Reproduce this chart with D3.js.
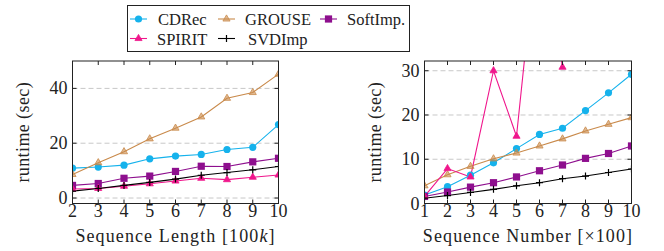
<!DOCTYPE html>
<html>
<head>
<meta charset="utf-8">
<script src="https://cdn.jsdelivr.net/npm/d3@7"></script>
<style>
  body { margin: 0; background: #fff; }
  svg { display: block; font-family: "Liberation Serif", "DejaVu Serif", serif; }
</style>
</head>
<body>
<svg id="chart" width="664" height="251"></svg>
<script>
// series names + colours
const methods = ["CDRec", "GROUSE", "SoftImp.", "SPIRIT", "SVDImp"];
const colors = ["#15b2ec", "#c98a4b", "#8e0f8e", "#f0168c", "#000000"];
const shapes = ["circle", "triangle", "square", "triangle", "plus"];

// left panel: sequence length [100k]
const lenX = [2, 3, 4, 5, 6, 7, 8, 9, 10];
const lenCDRec = [10.9, 11.3, 12.0, 14.3, 15.3, 15.9, 17.7, 18.5, 26.8];
const lenGROUSE = [8.6, 12.9, 16.9, 21.6, 25.5, 29.6, 36.4, 38.5, 45.2];
const lenSoftImp = [4.6, 5.3, 7.2, 8.0, 9.7, 11.6, 11.5, 13.2, 14.5];
const lenSPIRIT = [3.3, 3.5, 4.3, 5.2, 6.2, 7.2, 6.7, 7.6, 8.4];
const lenSVDImp = [2.5, 3.5, 4.6, 5.7, 6.9, 8.3, 9.3, 10.3, 11.5];
const lenYTicks = [0, 20, 40];

// right panel: sequence number [x100]
const numX = [1, 2, 3, 4, 5, 6, 7, 8, 9, 10];
const numCDRec = [1.9, 3.8, 6.4, 9.2, 12.4, 15.6, 17.0, 21.0, 25.0, 29.2];
const numGROUSE = [4.0, 6.5, 8.4, 10.1, 11.4, 13.0, 14.6, 16.4, 17.9, 19.4];
const numSoftImp = [1.6, 2.6, 3.7, 4.7, 6.0, 7.4, 8.7, 10.2, 11.3, 13.0];
const numSPIRIT = [1.6, 7.9, 6.0, 30.0, 15.2, 65, 30.8, null, null, null];
const numSVDImp = [1.2, 1.8, 2.5, 3.2, 4.0, 4.7, 5.6, 6.2, 7.0, 7.8];
const numYTicks = [0, 10, 20, 30];

const svg = d3.select("#chart");
const fontSize = 18;

function marker(g, shape, color, x, y) {
  if (shape === "circle") {
    g.append("circle").attr("cx", x).attr("cy", y).attr("r", 3.6).attr("fill", color);
  } else if (shape === "square") {
    g.append("rect").attr("x", x - 3.6).attr("y", y - 3.6).attr("width", 7.2).attr("height", 7.2).attr("fill", color);
  } else if (shape === "triangle") {
    g.append("path").attr("d", d3.symbol(d3.symbolTriangle, 22)()).attr("transform", `translate(${x},${y})`)
      .attr("fill", color).attr("fill-opacity", color === colors[1] ? 0.6 : 1).attr("stroke", color).attr("stroke-width", 0.8);
  } else {
    g.append("path").attr("d", `M${x - 3.5},${y}H${x + 3.5}M${x},${y - 3.5}V${y + 3.5}`)
      .attr("stroke", color).attr("stroke-width", 1.2);
  }
}

function panel(cfg) {
  const { left, right, top, bottom, xs, series, yDomain, yTicks, xLabel, clipId } = cfg;
  const x = d3.scaleLinear().domain(d3.extent(xs)).range([left, right]);
  const y = d3.scaleLinear().domain(yDomain).range([bottom, top]);
  const g = svg.append("g");

  g.append("clipPath").attr("id", clipId).append("rect")
    .attr("x", left).attr("y", top).attr("width", right - left).attr("height", bottom - top);

  // grid
  g.append("g").selectAll("line").data(yTicks.filter(t => y(t) < bottom - 1)).join("line")
    .attr("x1", left).attr("x2", right).attr("y1", d => y(d)).attr("y2", d => y(d))
    .attr("stroke", "#c8c8c8").attr("stroke-width", 1).attr("stroke-dasharray", "5,3");

  // lines + markers
  const plot = g.append("g").attr("clip-path", `url(#${clipId})`);
  series.forEach((vals, i) => {
    const line = d3.line().defined(d => d[1] != null).x(d => x(d[0])).y(d => y(d[1]));
    const pts = xs.map((v, j) => [v, vals[j]]);
    plot.append("path").datum(pts).attr("d", line).attr("fill", "none")
      .attr("stroke", colors[i]).attr("stroke-width", 1.1);
  });
  series.forEach((vals, i) => {
    xs.forEach((v, j) => {
      if (vals[j] == null || vals[j] > yDomain[1] + 1) return;
      marker(plot, shapes[i], colors[i], x(v), y(vals[j]));
    });
  });

  // box and inward ticks
  const axes = g.append("g").attr("stroke", "#222").attr("stroke-width", 1);
  axes.append("rect").attr("x", left).attr("y", top).attr("width", right - left).attr("height", bottom - top)
    .attr("fill", "none");
  xs.forEach(v => {
    axes.append("line").attr("x1", x(v)).attr("x2", x(v)).attr("y1", bottom).attr("y2", bottom - 4);
    axes.append("line").attr("x1", x(v)).attr("x2", x(v)).attr("y1", top).attr("y2", top + 4);
  });
  yTicks.forEach(t => {
    axes.append("line").attr("x1", left).attr("x2", left + 4).attr("y1", y(t)).attr("y2", y(t));
    axes.append("line").attr("x1", right).attr("x2", right - 4).attr("y1", y(t)).attr("y2", y(t));
  });

  // tick labels
  g.append("g").selectAll("text").data(xs).join("text")
    .attr("x", d => x(d)).attr("y", 217).attr("text-anchor", "middle")
    .attr("font-size", fontSize).attr("fill", "#222").text(d => d);
  g.append("g").selectAll("text").data(yTicks).join("text")
    .attr("x", left - 5).attr("y", d => y(d) + 6).attr("text-anchor", "end")
    .attr("font-size", fontSize).attr("fill", "#222").text(d => d);

  // axis titles
  g.append("text").attr("x", (left + right) / 2).attr("y", 242).attr("text-anchor", "middle")
    .attr("font-size", fontSize).attr("letter-spacing", 1.1).attr("fill", "#222").html(xLabel);
  g.append("text").attr("transform", `translate(${left - 44},${(top + bottom) / 2}) rotate(-90)`)
    .attr("text-anchor", "middle").attr("font-size", fontSize).attr("letter-spacing", 0.4)
    .attr("fill", "#222").text("runtime (sec)");
}

panel({
  left: 72.5, right: 278.5, top: 61, bottom: 203.5,
  xs: lenX, series: [lenCDRec, lenGROUSE, lenSoftImp, lenSPIRIT, lenSVDImp],
  yDomain: [-2, 50], yTicks: lenYTicks,
  xLabel: 'Sequence Length [100<tspan font-style="italic">k</tspan>]', clipId: "clipL"
});
panel({
  left: 424.5, right: 631.5, top: 61, bottom: 203.5,
  xs: numX, series: [numCDRec, numGROUSE, numSoftImp, numSPIRIT, numSVDImp],
  yDomain: [0, 32.2], yTicks: numYTicks,
  xLabel: "Sequence Number [×100]", clipId: "clipR"
});

// legend
const leg = svg.append("g");
leg.append("rect").attr("x", 127.5).attr("y", 5.5).attr("width", 282).attr("height", 46)
  .attr("fill", "#fff").attr("stroke", "#222").attr("stroke-width", 1);
const legPos = [[130, 19], [218, 19], [320, 19], [130, 38.5], [218, 38.5]];
const textX = [158, 245, 347, 157, 248];
methods.forEach((m, i) => {
  const [lx, ly] = legPos[i];
  leg.append("line").attr("x1", lx).attr("x2", lx + 17).attr("y1", ly).attr("y2", ly)
    .attr("stroke", colors[i]).attr("stroke-width", 1.1);
  marker(leg, shapes[i], colors[i], lx + 8.5, ly);
  leg.append("text").attr("x", textX[i]).attr("y", ly + 6).attr("font-size", 16.5)
    .attr("fill", "#222").text(m);
});
</script>
</body>
</html>
